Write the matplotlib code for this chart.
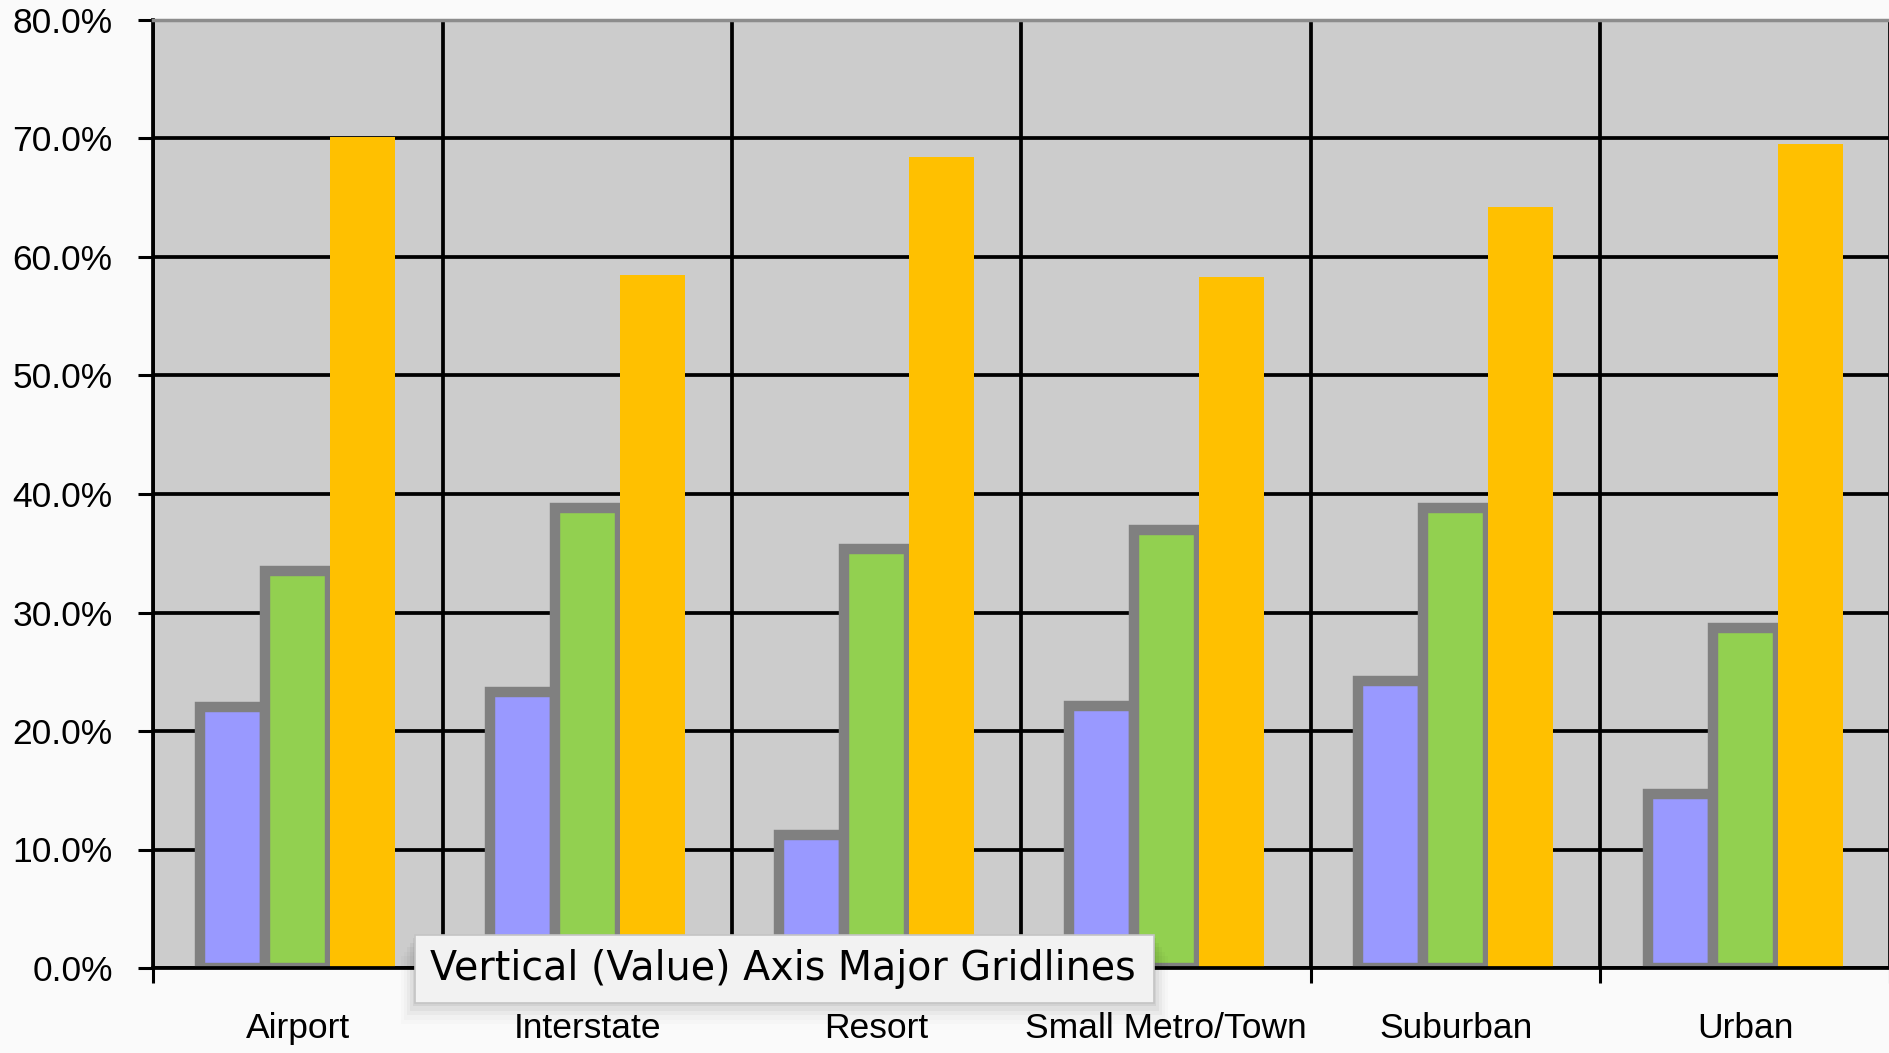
import numpy as np
import matplotlib.pyplot as plt
from matplotlib.patches import FancyBboxPatch
from matplotlib.ticker import FuncFormatter

# Share of properties by location type (%)
categories = ['Airport', 'Interstate', 'Resort', 'Small Metro/Town', 'Suburban', 'Urban']
blue_vals = [22.0, 23.3, 11.2, 22.1, 24.2, 14.7]
green_vals = [33.5, 38.8, 35.4, 37.0, 38.8, 28.7]
orange_vals = [70.1, 58.5, 68.4, 58.3, 64.2, 69.5]
y_ticks = [0, 10, 20, 30, 40, 50, 60, 70, 80]

W, H = 1890, 1053
fig = plt.figure(figsize=(W / 100, H / 100), dpi=100, facecolor='#fafafa')
ax = fig.add_axes([153 / W, 85 / H, 1737 / W, 948 / H])
ax.set_facecolor('#cccccc')

x = np.arange(len(categories))
w = 0.224
ax.bar(x - w, blue_vals, w, color='#9999ff', edgecolor='#808080', linewidth=7.5)
ax.bar(x, green_vals, w, color='#92d050', edgecolor='#808080', linewidth=7.5)
ax.bar(x + w, orange_vals, w, color='#ffc000', linewidth=0)

ax.set_xlim(-0.5, len(categories) - 0.5)
ax.set_ylim(0, 80)
ax.set_yticks(y_ticks)
ax.yaxis.set_major_formatter(FuncFormatter(lambda v, p: f'{v:.1f}%'))
ax.set_xticks(x)
ax.set_xticklabels(categories)
ax.set_xticks(np.arange(-0.5, len(categories), 1), minor=True)

font = 'Liberation Sans'
ax.tick_params(axis='x', which='major', length=0, pad=32, labelsize=25.5)
ax.tick_params(axis='x', which='minor', length=11, width=2.2, direction='out', color='black')
ax.tick_params(axis='y', length=11, width=2.2, pad=18, labelsize=25.5)
for lab in ax.get_xticklabels() + ax.get_yticklabels():
    lab.set_fontfamily(font)

ax.set_axisbelow(True)
ax.yaxis.grid(True, which='major', color='black', linewidth=2.7)
ax.xaxis.grid(False, which='major')
ax.xaxis.grid(True, which='minor', color='black', linewidth=2.7)
ax.yaxis.get_major_ticks()[-1].gridline.set_visible(False)

ax.spines['left'].set_linewidth(2.7)
ax.spines['bottom'].set_linewidth(2.7)
ax.spines['top'].set_color('#8c8c8c')
ax.spines['top'].set_linewidth(2.5)
ax.spines['right'].set_visible(False)

# hover tooltip over the gridlines
bx0, bx1, by0, by1 = 415, 1154, 935, 1003
for i, a in enumerate([0.05, 0.04, 0.03, 0.02, 0.015]):
    off = 2 + i * 3
    fig.patches.append(FancyBboxPatch(
        ((bx0 - off) / W, (H - by1 - off * 1.5) / H), (bx1 - bx0 + 2 * off) / W, (by1 - by0) / H,
        boxstyle='square,pad=0', transform=fig.transFigure, facecolor='black',
        edgecolor='none', alpha=a, zorder=5))
fig.patches.append(FancyBboxPatch(
    (bx0 / W, (H - by1) / H), (bx1 - bx0) / W, (by1 - by0) / H,
    boxstyle='square,pad=0', transform=fig.transFigure, facecolor='#f2f2f2',
    edgecolor='#c4c4c4', linewidth=1.2, zorder=6))
fig.text(430 / W, (H - 969) / H, 'Vertical (Value) Axis Major Gridlines',
         fontsize=28.5, family='DejaVu Sans', ha='left', va='center', zorder=7)

fig.savefig('out.png', dpi=100, facecolor=fig.get_facecolor())
